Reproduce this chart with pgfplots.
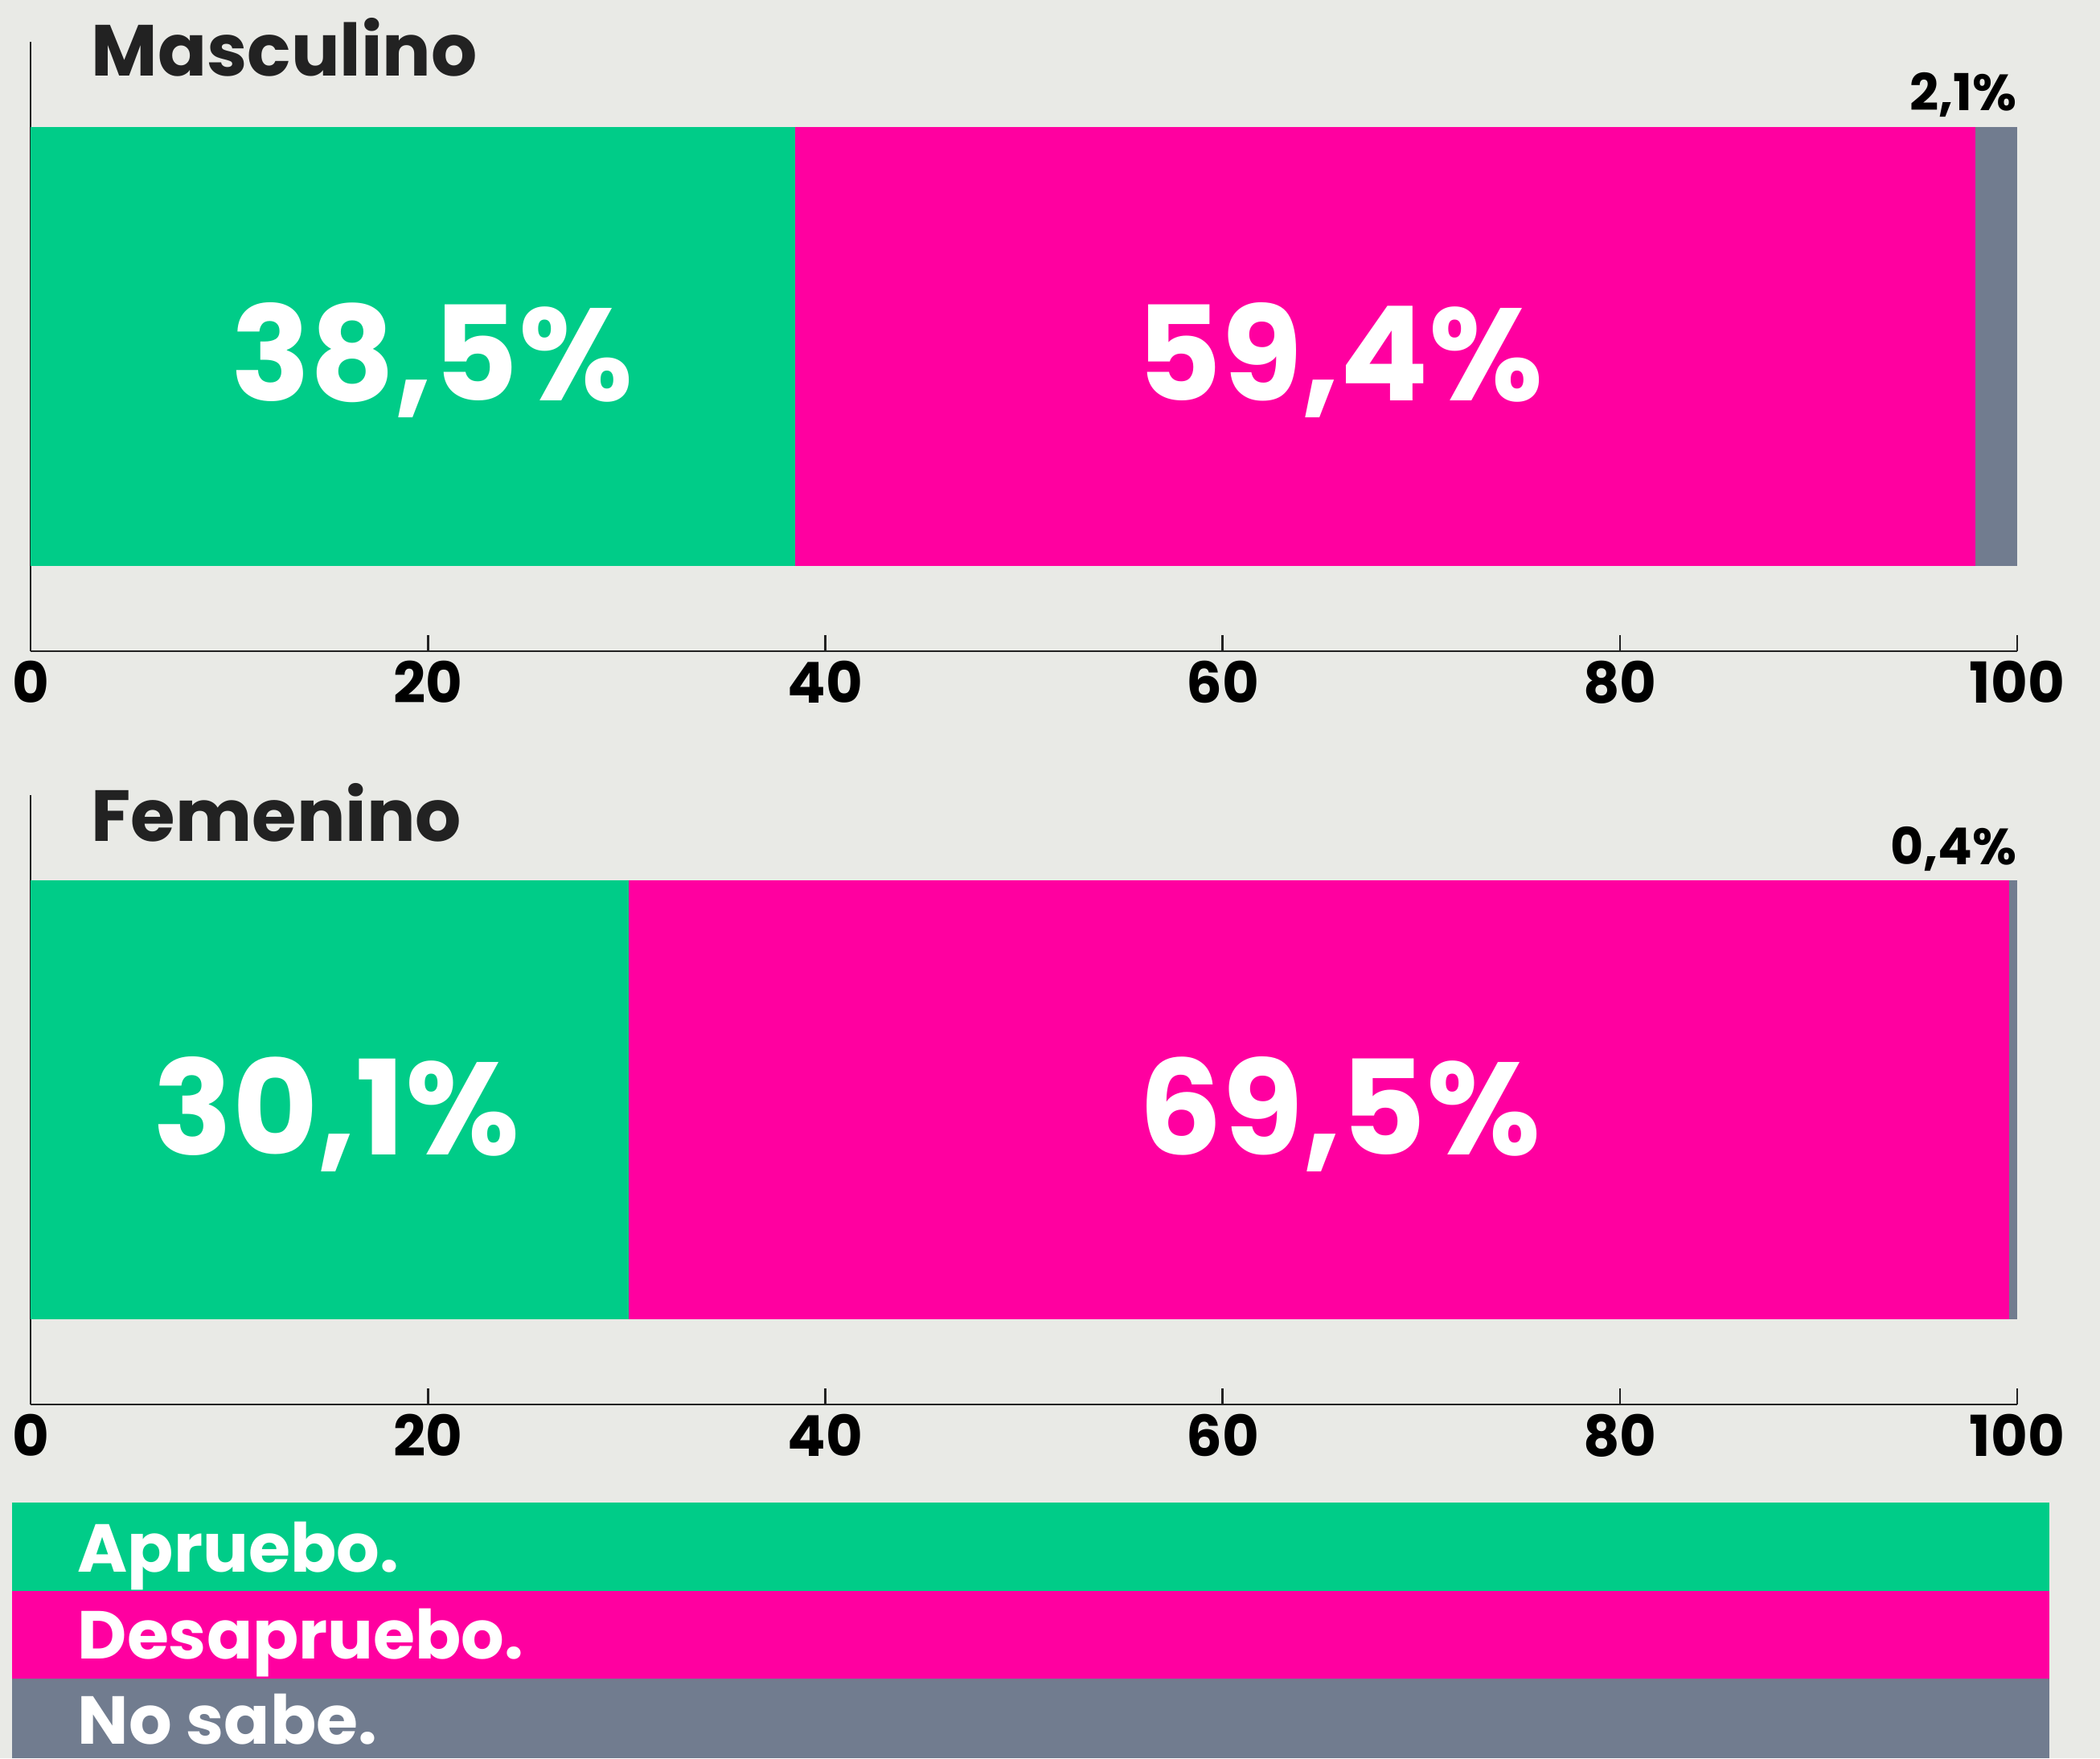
\documentclass[border=0pt]{standalone}
\usepackage{fontspec}
\setmainfont{Poppins}
\usepackage{pgfplots}
\pgfplotsset{compat=1.18}
\definecolor{bg}{HTML}{E9EAE6}
\definecolor{verde}{HTML}{00CC88}
\definecolor{rosa}{HTML}{FF00A0}
\definecolor{gris}{HTML}{717C8F}
\definecolor{tinta}{HTML}{222222}
\pgfplotsset{panel/.style={
  scale only axis, width=24.71cm, height=7.58cm,
  xmin=0, xmax=100, ymin=-1, ymax=1,
  axis x line=bottom, axis y line=left,
  axis line style={-, line width=0.75pt, tinta},
  xtick={0,20,40,60,80,100}, ytick=\empty,
  tick align=inside, major tick length=0.2cm,
  tick style={line width=0.75pt, tinta},
  xticklabel style={font=\bfseries\fontsize{20}{20}\selectfont, text=black},
  /pgf/number format/assume math mode=true,
  xbar stacked, bar width=5.46cm, clip=false,
  anchor=south west,
}}
\tikzset{big/.style={anchor=base, text=white, font=\bfseries\fontsize{46.5}{47}\selectfont},
  leg/.style={anchor=base west, inner sep=0pt, text depth=0pt, text=white, font=\bfseries\fontsize{24}{25}\selectfont}}
\begin{document}
\begin{tikzpicture}
\path[use as bounding box, fill=bg] (0,0) rectangle (26.12,21.87);
% Masculino
\begin{axis}[panel, at={(0.38cm,13.77cm)}]
\addplot[fill=verde, draw=none] coordinates {(38.5,0)};
\addplot[fill=rosa, draw=none] coordinates {(59.4,0)};
\addplot[fill=gris, draw=none] coordinates {(2.1,0)};
\coordinate (m1) at (axis cs:20.2,0);
\coordinate (m2) at (axis cs:65.9,0);
\node[anchor=base east, inner sep=0pt, text=black, font=\bfseries\fontsize{18}{18}\selectfont] at ([yshift=0.2cm]axis cs:100,0.7203) {2,1\%};
\node[anchor=base west, inner sep=0pt, text=tinta, font=\bfseries\fontsize{25.6}{26}\selectfont] at ([xshift=0.75cm,yshift=-0.43cm]rel axis cs:0,1) {Masculino};
\end{axis}
\node[big] at ([yshift=-0.68cm]m1) {38,5\%};
\node[big] at ([yshift=-0.68cm]m2) {59,4\%};
% Femenino
\begin{axis}[panel, at={(0.38cm,4.40cm)}]
\addplot[fill=verde, draw=none] coordinates {(30.1,0)};
\addplot[fill=rosa, draw=none] coordinates {(69.5,0)};
\addplot[fill=gris, draw=none] coordinates {(0.4,0)};
\coordinate (f1) at (axis cs:15.4,0);
\coordinate (f2) at (axis cs:65.9,0);
\node[anchor=base east, inner sep=0pt, text=black, font=\bfseries\fontsize{18}{18}\selectfont] at ([yshift=0.2cm]axis cs:100,0.7203) {0,4\%};
\node[anchor=base west, inner sep=0pt, text=tinta, font=\bfseries\fontsize{25.6}{26}\selectfont] at ([xshift=0.75cm,yshift=-0.58cm]rel axis cs:0,1) {Femenino};
\end{axis}
\node[big] at ([yshift=-0.68cm]f1) {30,1\%};
\node[big] at ([yshift=-0.68cm]f2) {69,5\%};
% Legend
\fill[verde] (0.15,2.08) rectangle (25.49,3.18);
\fill[rosa] (0.15,0.99) rectangle (25.49,2.08);
\fill[gris] (0.15,0) rectangle (25.49,0.99);
\node[leg] at (0.96,2.32) {Apruebo.};
\node[leg] at (0.96,1.24) {Desapruebo.};
\node[leg] at (0.96,0.18) {No sabe.};
\end{tikzpicture}
\end{document}
